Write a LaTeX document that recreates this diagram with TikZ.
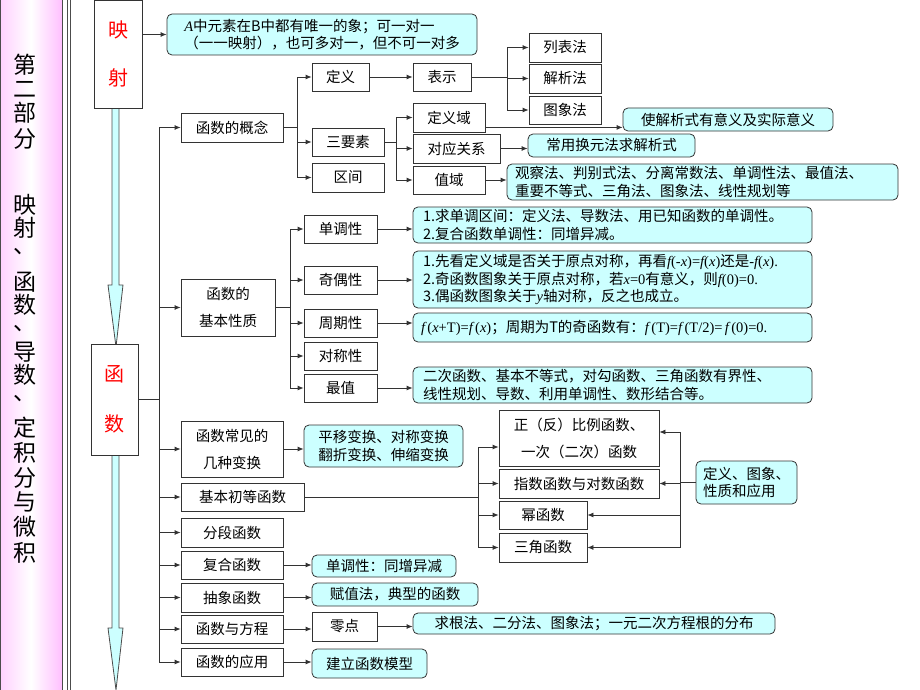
\documentclass[tikz,border=0pt]{standalone}
\usepackage{fontspec}
\setmainfont{Noto Sans CJK SC}
\newfontfamily\tms{Liberation Serif}
\usetikzlibrary{arrows.meta}
\definecolor{notecyan}{HTML}{CCFFFF}
\definecolor{linegray}{HTML}{333333}
\newcommand\itm[1]{{\tms\itshape #1}}
\newcommand\tmr[1]{{\tms #1}}

\begin{document}
\begin{tikzpicture}[x=1pt,y=-1pt,
  every node/.style={inner sep=0pt},
  box/.style={draw=linegray,line width=0.8pt,fill=white,align=center,font=\fontsize{14.5}{27}\selectfont},
  note/.style={draw=linegray,line width=0.8pt,fill=notecyan,rounded corners=5pt,align=left,font=\fontsize{14.5}{17.5}\selectfont},
  link/.style={draw=linegray,line width=0.8pt,-{Latex[length=6pt,width=5pt]}},
  fat/.style={draw=gray!60!black,line width=0.8pt,fill=notecyan}]
\useasboundingbox (0,0) rectangle (920,690);

% left title panel
\shade[left color=magenta!18,right color=magenta!25,middle color=white] (0,0) rectangle (62,690);
\draw[gray!60!black] (0.5,0) -- (0.5,690);
\draw[gray!60!black] (62,0) -- (62,690);
\draw[gray!60!black] (67,0) -- (67,690);
\draw[gray!60!black] (70,0) -- (70,690);
\foreach \c/\y [count=\i] in {第/65,二/89,部/113,分/139,映/205,射/228,、/252,函/282,数/305,、/329,导/352,数/375,、/399,定/428,积/453,分/478,与/502,微/527,积/553}
  \node[font=\fontsize{23}{23}\selectfont] (p\i) at (25,\y) {\c};

% big arrows
\draw[fat] (112,108) -- (112,285) -- (108,285) -- (116,347) -- (123,285) -- (119,285) -- (119,108) -- cycle;
\draw[fat] (112,455) -- (112,628) -- (108,628) -- (116,690) -- (123,628) -- (119,628) -- (119,455) -- cycle;

% main boxes
\node[box,text=red,font=\fontsize{20}{48}\selectfont,minimum width=48,minimum height=108] (ys) at (118,54) {映\\射};
\node[box,text=red,font=\fontsize{20}{50}\selectfont,minimum width=47,minimum height=111] (hs) at (114.5,399.5) {函\\数};
\node[note,minimum width=310,minimum height=41] (note0) at (322,34.5) {\itm{A}中元素在B中都有唯一的象；可一对一\\（一一映射），也可多对一，但不可一对多};

% concept
\node[box,minimum width=102,minimum height=29] (gn) at (232,127.5) {函数的概念};
\node[box,minimum width=57,minimum height=28] (dy) at (340.5,77) {定义};
\node[box,minimum width=72,minimum height=28] (sys) at (348,142) {三要素};
\node[box,minimum width=72,minimum height=29] (qj) at (348,177.5) {区间};
\node[box,minimum width=58,minimum height=28] (bs) at (442,77) {表示};
\node[box,minimum width=72,minimum height=29] (lb) at (565,47.5) {列表法};
\node[box,minimum width=72,minimum height=29] (jx) at (565,78.5) {解析法};
\node[box,minimum width=72,minimum height=28] (tx) at (565,110) {图象法};
\node[box,minimum width=72,minimum height=29] (dyy) at (449,117.5) {定义域};
\node[box,minimum width=87,minimum height=29] (dygx) at (456.5,148.5) {对应关系};
\node[box,minimum width=72,minimum height=28] (zy) at (449,180) {值域};
\node[note,minimum width=210,minimum height=23] (n1) at (728,119.5) {使解析式有意义及实际意义};
\node[note,minimum width=167,minimum height=23] (n2) at (611.5,145.5) {常用换元法求解析式};
\node[note,minimum width=391,minimum height=36,text width=375] (n3) at (702.5,182) {观察法、判别式法、分离常数法、单调性法、最值法、\\重要不等式、三角法、图象法、线性规划等};

% properties
\node[box,minimum width=94,minimum height=57] (jb) at (228,307.5) {函数的\\基本性质};
\node[box,minimum width=73,minimum height=28] (dd) at (340.5,229) {单调性};
\node[box,minimum width=73,minimum height=28] (jo) at (340.5,280) {奇偶性};
\node[box,minimum width=73,minimum height=28] (zq) at (340.5,323) {周期性};
\node[box,minimum width=73,minimum height=28] (dc) at (340.5,356) {对称性};
\node[box,minimum width=73,minimum height=28] (zz) at (340.5,388) {最值};
\node[note,minimum width=399,minimum height=36,text width=379] (m1) at (612.5,225) {1.求单调区间：定义法、导数法、用已知函数的单调性。\\2.复合函数单调性：同增异减。};
\node[note,minimum width=399,minimum height=57,text width=379] (m2) at (612.5,279.5) {1.先看定义域是否关于原点对称，再看\itm{f}\tmr{(-}\itm{x}\tmr{)=}\itm{f}\tmr{(}\itm{x}\tmr{)}还是\tmr{-}\itm{f}\tmr{(}\itm{x}\tmr{).}\\2.奇函数图象关于原点对称，若\itm{x}\tmr{=0}有意义，则\itm{f}\tmr{(0)=0.}\\3.偶函数图象关于\itm{y}轴对称，反之也成立。};
\node[note,minimum width=399,minimum height=29,text width=383] (m3) at (612.5,327.5) {\itm{f}\tmr{\,(}\itm{x}\tmr{+T)=}\itm{f}\tmr{\,(}\itm{x}\tmr{)}；周期为T的奇函数有：\itm{f}\tmr{\,(T)=}\itm{f}\tmr{\,(T/2)=\,}\itm{f}\tmr{\,(0)=0.}};
\node[note,minimum width=399,minimum height=36,text width=379] (m4) at (612.5,385) {二次函数、基本不等式，对勾函数、三角函数有界性、\\线性规划、导数、利用单调性、数形结合等。};

% other topics
\node[box,minimum width=102,minimum height=56] (bh) at (232,449) {函数常见的\\几种变换};
\node[note,minimum width=159,minimum height=42] (v1) at (383.5,446) {平移变换、对称变换\\翻折变换、伸缩变换};
\node[box,minimum width=123,minimum height=28] (cd) at (242.5,497) {基本初等函数};
\node[box,minimum width=102,minimum height=29] (fd) at (232,532.5) {分段函数};
\node[box,minimum width=102,minimum height=28] (fh) at (232,565) {复合函数};
\node[box,minimum width=102,minimum height=29] (cx) at (232,597.5) {抽象函数};
\node[box,minimum width=102,minimum height=28] (fc) at (232,629) {函数与方程};
\node[box,minimum width=102,minimum height=28] (yy) at (232,662) {函数的应用};
\node[note,minimum width=144,minimum height=22] (v2) at (384,566) {单调性：同增异减};
\node[note,minimum width=166,minimum height=23] (v3) at (395,594.5) {赋值法，典型的函数};
\node[box,minimum width=65,minimum height=29] (ld) at (344.5,626.5) {零点};
\node[note,minimum width=362,minimum height=21] (v4) at (594,623.5) {求根法、二分法、图象法；一元二次方程根的分布};
\node[note,minimum width=115,minimum height=29] (v5) at (369.5,663.5) {建立函数模型};
\node[box,minimum width=160,minimum height=56] (zf) at (579,438) {正（反）比例函数、\\一次（二次）函数};
\node[box,minimum width=160,minimum height=29] (zs) at (579,483.5) {指数函数与对数函数};
\node[box,minimum width=88,minimum height=28] (mh) at (543,515) {幂函数};
\node[box,minimum width=88,minimum height=29] (sj) at (543,547.5) {三角函数};
\node[note,minimum width=101,minimum height=43] (v6) at (746.5,482.5) {定义、图象、\\性质和应用};

% connectors
\draw[link] (ys.east |- note0.west) -- (note0.west);
\foreach \n in {gn,jb,bh,cd,fd,fh,cx,fc,yy}
  \draw[link] (hs.east) -- ++(21,0) |- (\n.west);
\foreach \n in {dy,sys,qj}
  \draw[link] (gn.east) -- ++(14,0) |- (\n.west);
\draw[link] (dy) -- (bs);
\foreach \n in {lb,jx,tx}
  \draw[link] (bs.east) -- ++(36,0) |- (\n.west);
\foreach \n in {dyy,dygx,zy}
  \draw[link] (sys.east) -- ++(12,0) |- (\n.west);
\draw[link] ([yshift=5pt]dyy.south east) -- ([yshift=5pt]dyy.south east -| n1.west);
\draw[link] (dygx.east) -- (dygx.east -| n2.west);
\draw[link] (zy.east) -- (zy.east -| n3.west);
\foreach \n in {dd,jo,zq,dc,zz}
  \draw[link] (jb.east) -- ++(15,0) |- (\n.west);
\draw[link] (dd.east) -- (dd.east -| m1.west);
\draw[link] (jo.east) -- (jo.east -| m2.west);
\draw[link] (zq.east) -- (zq.east -| m3.west);
\draw[link] (zz.east) -- (zz.east -| m4.west);
\draw[link] (bh.east) -- (bh.east -| v1.west);
\draw[link] (cd.east) -- ++(174,0) |- ([yshift=-9pt]zf.west);
\foreach \n in {zs,mh,sj}
  \draw[link] (cd.east) -- ++(174,0) |- (\n.west);
\draw[link] (v6.west) -- ++(-15,0) |- ([yshift=6pt]zf.east);
\foreach \n in {zs,mh,sj}
  \draw[link] (v6.west) -- ++(-15,0) |- (\n.east);
\draw[link] (fh.east) -- (fh.east -| v2.west);
\draw[link] (cx.east) -- (cx.east -| v3.west);
\draw[link] (fc.east) -- (fc.east -| ld.west);
\draw[link] (ld.east) -- (ld.east -| v4.west);
\draw[link] (yy.east) -- (yy.east -| v5.west);
\end{tikzpicture}
\end{document}
